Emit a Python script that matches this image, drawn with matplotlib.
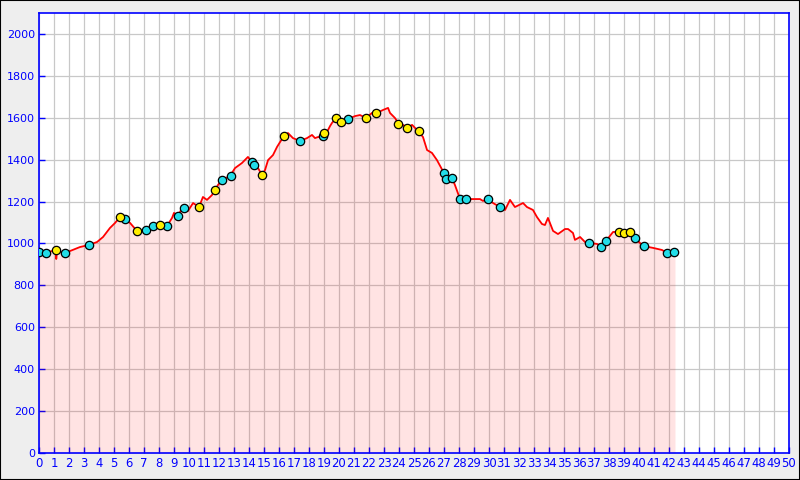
import matplotlib
matplotlib.use("Agg")
import matplotlib.pyplot as plt
from matplotlib.patches import Rectangle

# perfil de altitud (km, m)
dist_km = [0.0, 0.47, 0.87, 1.13, 1.15, 1.2, 1.73, 2.07, 2.73, 3.33, 3.87, 4.27,
           4.73, 5.07, 5.4, 5.73, 6.07, 6.53, 7.13, 7.6, 8.07, 8.53, 8.87, 9.0,
           9.27, 9.53, 9.67, 9.93, 10.27, 10.67, 10.93, 11.2, 11.53, 11.73, 11.93,
           12.2, 12.73, 13.07, 13.53, 13.93, 14.2, 14.33, 14.6, 14.87, 15.07,
           15.27, 15.6, 15.87, 16.07, 16.33, 16.6, 16.93, 17.4, 17.87, 18.2, 18.4,
           18.6, 18.93, 19.2, 19.4, 19.53, 19.8, 20.13, 20.6, 21.07, 21.4, 21.8,
           22.2, 22.53, 22.93, 23.27, 23.4, 23.73, 24.0, 24.27, 24.53, 24.87,
           25.27, 25.6, 25.87, 26.2, 26.53, 27.0, 27.2, 27.53, 27.73, 28.07, 28.4,
           29.4, 29.6, 29.93, 30.27, 30.73, 31.07, 31.4, 31.73, 32.27, 32.53,
           32.93, 33.2, 33.53, 33.73, 33.93, 34.27, 34.6, 35.07, 35.27, 35.6,
           35.73, 36.07, 36.4, 36.67, 37.2, 37.47, 37.8, 38.27, 38.67, 39.0, 39.4,
           39.73, 40.27, 40.93, 41.53, 41.87, 42.4]
alt_m = [959, 955, 964, 969, 926, 964, 955, 964, 983, 993, 1007, 1031,
         1074, 1098, 1126, 1117, 1098, 1060, 1064, 1083, 1088, 1083, 1122, 1146,
         1131, 1169, 1169, 1155, 1193, 1174, 1222, 1208, 1231, 1255, 1279,
         1303, 1322, 1360, 1384, 1413, 1389, 1375, 1360, 1327, 1351,
         1398, 1422, 1461, 1484, 1513, 1527, 1503, 1489, 1503, 1518, 1503,
         1508, 1508, 1532, 1560, 1575, 1599, 1580, 1594, 1608, 1613, 1599,
         1623, 1623, 1637, 1647, 1623, 1599, 1570, 1566, 1551, 1566,
         1537, 1508, 1446, 1432, 1398, 1336, 1308, 1313, 1279, 1212, 1212,
         1212, 1203, 1212, 1193, 1174, 1160, 1208, 1174, 1193, 1174,
         1160, 1126, 1093, 1088, 1122, 1060, 1045, 1069, 1069, 1050,
         1017, 1031, 1007, 1002, 998, 983, 1012, 1055, 1055, 1050, 1055,
         1026, 988, 979, 969, 955, 959]

# puntos cian
cyan_km = [0.0, 0.47, 1.73, 3.33, 5.73, 7.13, 7.6, 8.53, 9.27, 9.67, 12.2, 12.8,
           14.2, 14.33, 17.4, 18.93, 20.6, 27.0, 27.13, 27.53, 28.07, 28.47,
           29.93, 30.73, 36.67, 37.47, 37.8, 39.73, 40.33, 41.87, 42.33]
cyan_m = [959, 955, 955, 993, 1117, 1064, 1083, 1083, 1131, 1169, 1303, 1322,
          1389, 1375, 1489, 1513, 1594, 1337, 1308, 1313, 1212, 1212,
          1212, 1174, 1002, 983, 1012, 1026, 988, 955, 959]

# puntos amarillos
yellow_km = [1.13, 5.4, 6.53, 8.07, 10.67, 11.73, 14.87, 16.33, 19.0, 19.8, 20.13,
             21.8, 22.47, 23.93, 24.53, 25.33, 38.67, 39.0, 39.4]
yellow_m = [969, 1126, 1060, 1088, 1174, 1255, 1327, 1513, 1527, 1599, 1580,
            1599, 1623, 1570, 1551, 1537, 1055, 1050, 1055]

x_ticks = list(range(0, 51))
y_ticks = list(range(0, 2001, 200))

fig = plt.figure(figsize=(8, 4.8), dpi=100)
fig.patch.set_facecolor('#eeeeee')
fig.patches.append(Rectangle((0, 0), 1, 1, transform=fig.transFigure,
                             fill=False, edgecolor='black', linewidth=1.5))
ax = fig.add_axes([39 / 800, 27 / 480, 750 / 800, 440 / 480])
ax.set_facecolor('white')

ax.fill_between(dist_km, alt_m, 0, color='red', alpha=0.11, linewidth=0, zorder=2)
ax.plot(dist_km, alt_m, color='red', linewidth=1.3, zorder=3)
ax.plot(cyan_km, cyan_m, 'o', markersize=6, markerfacecolor='#22dde8',
        markeredgecolor='black', markeredgewidth=0.9, zorder=4)
ax.plot(yellow_km, yellow_m, 'o', markersize=6, markerfacecolor='#ffee00',
        markeredgecolor='black', markeredgewidth=0.9, zorder=5)

ax.set_xlim(0, 50)
ax.set_ylim(0, 2100)
ax.set_xticks(x_ticks)
ax.set_yticks(y_ticks)
ax.grid(True, color='#c8c8c8', linewidth=0.9)
ax.set_axisbelow(True)

for s in ax.spines.values():
    s.set_color('blue')
    s.set_linewidth(1.2)
ax.tick_params(direction='in', colors='blue', labelcolor='blue', labelsize=8,
               length=4, width=1, pad=3)
ax.tick_params(axis='x', labelsize=8.4)

fig.savefig('out.png', dpi=100, facecolor=fig.get_facecolor())
